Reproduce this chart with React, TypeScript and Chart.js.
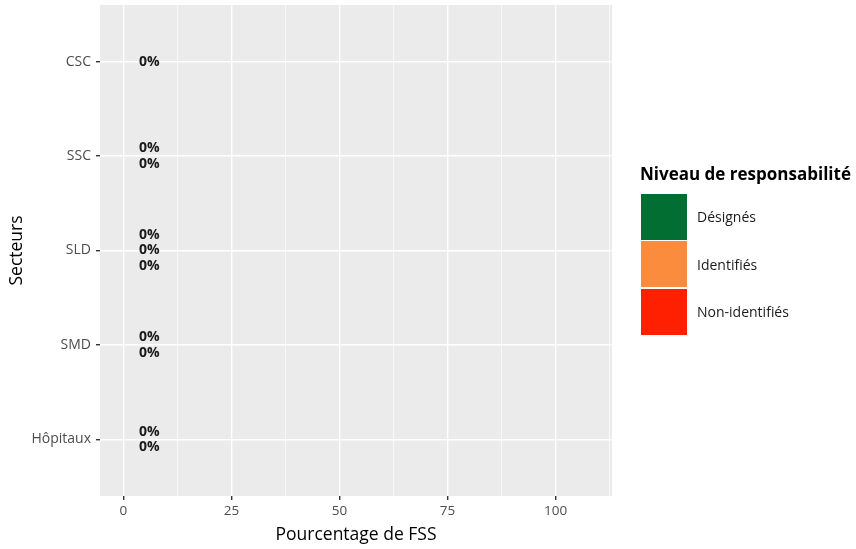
import React, { useEffect, useRef } from "react";
import { Chart, registerables } from "chart.js";

Chart.register(...registerables);

const sectors = ["CSC", "SSC", "SLD", "SMD", "Hôpitaux"];
const levels = ["Désignés", "Identifiés", "Non-identifiés"];
const levelColors = ["#036E32", "#FC8C3D", "#FE2000"];
const designes: (number | null)[] = [0, 0, 0, 0, 0];
const identifies: (number | null)[] = [null, 0, 0, 0, 0];
const nonIdentifies: (number | null)[] = [null, null, 0, null, null];
const seriesValues = [designes, identifies, nonIdentifies];
const xMajorTicks = [0, 25, 50, 75, 100];
const xMinorTicks = [12.5, 37.5, 62.5, 87.5, 112.5];
const xMin = -5.4;
const xMax = 113.05;
const labelX = 6;

const FONT = "'Open Sans', Lato, sans-serif";

const panelBg = {
  id: "panelBg",
  beforeDraw(chart: any) {
    const { ctx, chartArea } = chart;
    ctx.save();
    ctx.fillStyle = "#EBEBEB";
    ctx.fillRect(chartArea.left, chartArea.top, chartArea.right - chartArea.left, chartArea.bottom - chartArea.top);
    ctx.restore();
  },
};

const pctLabels = {
  id: "pctLabels",
  afterDatasetsDraw(chart: any) {
    const { ctx } = chart;
    const xs = chart.scales.x;
    const ys = chart.scales.y;
    ctx.save();
    ctx.font = `bold 14px ${FONT}`;
    ctx.fillStyle = "#1a1a1a";
    ctx.textAlign = "center";
    ctx.textBaseline = "middle";
    sectors.forEach((_, i) => {
      const vals = seriesValues.map((s) => s[i]).filter((v) => v !== null) as number[];
      const n = vals.length;
      vals.forEach((v, k) => {
        const y = ys.getPixelForValue(i) + (k - (n - 1) / 2) * 15.5;
        const x = xs.getPixelForValue(labelX);
        ctx.fillText(`${v}%`, x, y);
      });
    });
    ctx.restore();
  },
};

export default function App() {
  const ref = useRef<HTMLCanvasElement>(null);
  useEffect(() => {
    if (!ref.current) return;
    const chart = new Chart(ref.current, {
      type: "bar",
      data: {
        datasets: levels.map((lvl, j) => ({
          label: lvl,
          data: seriesValues[j]
            .map((v, i) => (v === null ? null : { x: v, y: i }))
            .filter((p) => p !== null) as any,
          backgroundColor: levelColors[j],
          borderWidth: 0,
          stack: "s",
        })),
      },
      options: {
        indexAxis: "y",
        animation: false,
        responsive: false,
        devicePixelRatio: 1,
        layout: { padding: { left: 0, top: 5, right: 244, bottom: 0 } },
        plugins: { legend: { display: false }, tooltip: { enabled: false } },
        scales: {
          x: {
            type: "linear",
            min: xMin,
            max: xMax,
            stacked: true,
            afterBuildTicks: (s: any) => {
              s.ticks = [...xMajorTicks, ...xMinorTicks].sort((a, b) => a - b).map((v) => ({ value: v }));
            },
            afterFit: (s: any) => {
              s.height = 53;
              s.paddingLeft = 0;
              s.paddingRight = 0;
            },
            border: { display: false },
            grid: {
              color: "#FFFFFF",
              lineWidth: (c: any) => (xMajorTicks.includes(c.tick?.value) ? 1.4 : 0.7),
              tickColor: (c: any) => (xMajorTicks.includes(c.tick?.value) ? "#333333" : "rgba(0,0,0,0)"),
              tickLength: 4,
              drawTicks: true,
            },
            ticks: {
              autoSkip: false,
              maxRotation: 0,
              color: "#4D4D4D",
              font: { family: FONT, size: 13.5 },
              padding: 3,
              callback: (v: any) => (xMajorTicks.includes(Number(v)) ? String(v) : ""),
            },
            title: {
              display: true,
              text: "Pourcentage de FSS",
              color: "#000000",
              font: { family: FONT, size: 17.5 },
              padding: { top: 0, bottom: 3 },
            },
          },
          y: {
            type: "linear",
            min: -0.6,
            max: 4.6,
            reverse: true,
            stacked: true,
            offset: false,
            afterBuildTicks: (s: any) => {
              s.ticks = sectors.map((_, i) => ({ value: i }));
            },
            afterFit: (s: any) => {
              s.width = 100;
              s.paddingTop = 0;
              s.paddingBottom = 0;
            },
            border: { display: false },
            grid: {
              offset: false,
              color: "#FFFFFF",
              lineWidth: 1.4,
              tickColor: "#333333",
              tickLength: 4,
              drawTicks: true,
            },
            ticks: {
              autoSkip: false,
              color: "#4D4D4D",
              font: { family: FONT, size: 14 },
              padding: 5,
              callback: (v: any) => sectors[Number(v)] ?? "",
            },
            title: {
              display: true,
              text: "Secteurs",
              color: "#000000",
              font: { family: FONT, size: 17.5 },
              padding: { top: 7, bottom: 4 },
            },
          },
        },
      },
      plugins: [panelBg, pctLabels],
    });
    return () => chart.destroy();
  }, []);

  return (
    <div style={{ position: "absolute", left: 0, top: 0, width: 856, height: 549, background: "#fff", fontFamily: FONT }}>
      <canvas ref={ref} width={856} height={549} style={{ position: "absolute", left: 0, top: 0 }} />
      <div style={{ position: "absolute", left: 640, top: 162, whiteSpace: "nowrap" }}>
        <div style={{ fontWeight: "bold", fontSize: 17, color: "#000", lineHeight: "24px", height: 31 }}>
          Niveau de responsabilité
        </div>
        {levels.map((lvl, j) => (
          <div key={lvl} style={{ display: "flex", alignItems: "center", height: 47.5 }}>
            <div style={{ width: 46, height: 46, background: levelColors[j], marginLeft: 1 }} />
            <div style={{ marginLeft: 10, fontSize: 14, color: "#1a1a1a" }}>{lvl}</div>
          </div>
        ))}
      </div>
    </div>
  );
}
